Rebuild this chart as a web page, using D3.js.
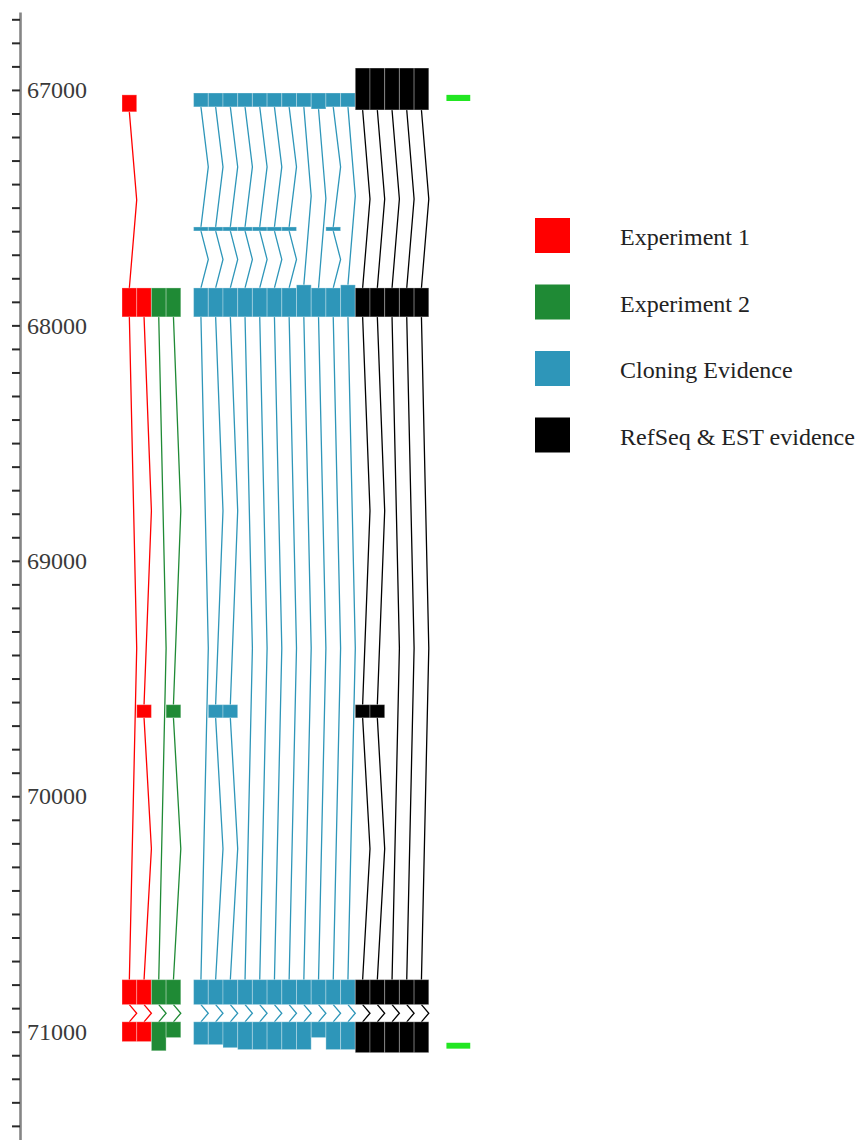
<!DOCTYPE html>
<html>
<head>
<meta charset="utf-8">
<script src="https://cdn.jsdelivr.net/npm/d3@7"></script>
<style>
  html, body { margin: 0; padding: 0; background: #fff; }
  svg { display: block; }
  text { font-family: "Liberation Serif", "Times New Roman", serif; }
</style>
</head>
<body>
<svg id="chart" width="858" height="1140"></svg>
<script>
// Exon coordinates (genomic position, start/end) for each transcript, grouped by evidence source
const exp1Transcripts = [
  [[67021, 67093], [67841, 67964], [70779, 70885], [70958, 71042]],
  [[67841, 67964], [69611, 69667], [70779, 70885], [70958, 71042]]
];
const exp2Transcripts = [
  [[67841, 67964], [70779, 70885], [70958, 71081]],
  [[67841, 67964], [69611, 69667], [70779, 70885], [70958, 71025]]
];
const cloningTranscripts = [
  [[67013, 67072], [67582, 67599], [67841, 67964], [70779, 70885], [70958, 71055]],
  [[67013, 67072], [67582, 67599], [67841, 67964], [69611, 69667], [70779, 70885], [70958, 71055]],
  [[67013, 67072], [67582, 67599], [67841, 67964], [69611, 69667], [70779, 70885], [70958, 71068]],
  [[67013, 67072], [67582, 67599], [67841, 67964], [70779, 70885], [70958, 71076]],
  [[67013, 67072], [67582, 67599], [67841, 67964], [70779, 70885], [70958, 71076]],
  [[67013, 67072], [67582, 67599], [67841, 67964], [70779, 70885], [70958, 71076]],
  [[67013, 67072], [67582, 67599], [67841, 67964], [70779, 70885], [70958, 71076]],
  [[67013, 67072], [67828, 67964], [70779, 70885], [70958, 71076]],
  [[67013, 67081], [67841, 67964], [70779, 70885], [70958, 71025]],
  [[67013, 67072], [67582, 67599], [67841, 67964], [70779, 70885], [70958, 71076]],
  [[67013, 67072], [67828, 67964], [70779, 70885], [70958, 71076]]
];
const refseqTranscripts = [
  [[66907, 67085], [67841, 67964], [69611, 69667], [70779, 70885], [70958, 71089]],
  [[66907, 67085], [67841, 67964], [69611, 69667], [70779, 70885], [70958, 71089]],
  [[66907, 67085], [67841, 67964], [70779, 70885], [70958, 71089]],
  [[66907, 67085], [67841, 67964], [70779, 70885], [70958, 71089]],
  [[66907, 67085], [67841, 67964], [70779, 70885], [70958, 71089]]
];
// Primer / marker positions drawn in their own track
const markerRanges = [[67021, 67047], [71047, 71072]];

const sourceNames = ["Experiment 1", "Experiment 2", "Cloning Evidence", "RefSeq & EST evidence"];
const sourceColors = ["#ff0000", "#1f8a35", "#2e96b9", "#000000"];
const markerColor = "#22e622";

const axisDomain = [66669, 71460];
const minorTickStep = 100;
const majorTickStep = 1000;

const svg = d3.select("#chart");

const y = d3.scaleLinear().domain(axisDomain).range([12, 1140]);

// Track layout: one column per transcript, narrower spacers between groups
const colWidth = 14.7;
const groups = [exp1Transcripts, exp2Transcripts, cloningTranscripts, refseqTranscripts];
const tracks = [];
const slotOffset = new Map();
let cursor = 0;
groups.forEach((g, gi) => {
  if (gi === 2) cursor += 0.87;
  g.forEach((exons, ti) => {
    const id = "g" + gi + "-t" + ti;
    slotOffset.set(id, cursor);
    tracks.push({ id, source: gi, exons });
    cursor += 1;
  });
});
cursor += 1.2;
slotOffset.set("markers", cursor);

const xSlot = d3.scaleLinear().domain([0, 1]).range([122, 122 + colWidth]);
const x = id => xSlot(slotOffset.get(id));
const bw = colWidth;

// Axis: minor ticks every 100, labels at each 1000
const ticks = d3.range(Math.ceil(axisDomain[0] / minorTickStep) * minorTickStep, axisDomain[1], minorTickStep);
const axis = d3.axisLeft(y)
  .tickValues(ticks)
  .tickSize(8)
  .tickSizeOuter(0)
  .tickFormat(d => d % majorTickStep === 0 ? d3.format("d")(d) : "");

const gAxis = svg.append("g").attr("transform", "translate(20,0)").call(axis);
gAxis.select(".domain").attr("stroke", "#858585").attr("stroke-width", 2.6);
gAxis.selectAll(".tick line").attr("stroke", "#2a2a2a").attr("stroke-width", 2);
gAxis.selectAll(".tick text")
  .attr("x", 7)
  .attr("text-anchor", "start")
  .attr("fill", "#3a3a3a")
  .style("font-size", "24px")
  .style("font-family", "'Liberation Serif', serif");

// Transcripts
const gTracks = svg.append("g");
tracks.forEach(t => {
  const color = sourceColors[t.source];
  const x0 = x(t.id);
  const cx = x0 + bw / 2;
  const g = gTracks.append("g");
  // introns: bent connectors between consecutive exons
  const introns = d3.pairs(t.exons).map(([a, b]) => ({ from: a[1], to: b[0] }));
  g.selectAll("path.intron").data(introns).join("path")
    .attr("class", "intron")
    .attr("fill", "none")
    .attr("stroke", color)
    .attr("stroke-width", 1.3)
    .attr("d", d => {
      const p = d3.path();
      p.moveTo(cx, y(d.from));
      p.lineTo(cx + bw / 2, y((d.from + d.to) / 2));
      p.lineTo(cx, y(d.to));
      return p.toString();
    });
  g.selectAll("rect.exon").data(t.exons).join("rect")
    .attr("class", "exon")
    .attr("x", x0)
    .attr("width", bw)
    .attr("y", d => y(d[0]))
    .attr("height", d => y(d[1]) - y(d[0]))
    .attr("fill", color)
    .attr("stroke", "#ffffff")
    .attr("stroke-opacity", 0.3)
    .attr("stroke-width", 1);
});

// Marker track
svg.append("g").selectAll("rect").data(markerRanges).join("rect")
  .attr("x", x("markers"))
  .attr("width", bw * 1.62)
  .attr("y", d => y(d[0]))
  .attr("height", d => y(d[1]) - y(d[0]))
  .attr("fill", markerColor);

// Legend
const legend = svg.append("g").attr("transform", "translate(535,218)");
const rows = legend.selectAll("g").data(sourceNames).join("g")
  .attr("transform", (d, i) => `translate(0,${i * 66.5})`);
rows.append("rect")
  .attr("width", 35).attr("height", 35)
  .attr("fill", (d, i) => sourceColors[i]);
rows.append("text")
  .attr("x", 85)
  .attr("y", 19)
  .attr("dominant-baseline", "central")
  .attr("fill", "#222")
  .style("font-size", "24px")
  .text(d => d);
</script>
</body>
</html>
